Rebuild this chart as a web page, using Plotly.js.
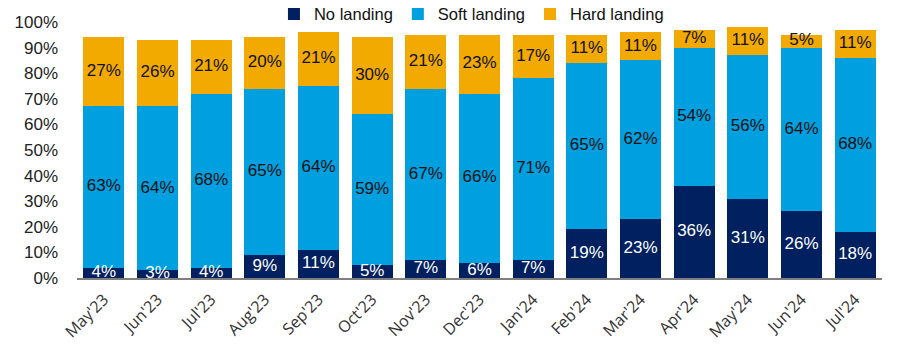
<!DOCTYPE html>
<html><head><meta charset="utf-8">
<script src="https://cdn.plot.ly/plotly-3.0.1.min.js"></script>
<style>html,body{margin:0;padding:0;background:#fff}#c{width:900px;height:358px}</style>
</head><body><div id="c"></div>
<script>
const months = ["May'23","Jun'23","Jul'23","Aug'23","Sep'23","Oct'23","Nov'23","Dec'23","Jan'24","Feb'24","Mar'24","Apr'24","May'24","Jun'24","Jul'24"];
const noLanding = [4,3,4,9,11,5,7,6,7,19,23,36,31,26,18];
const softLanding = [63,64,68,65,64,59,67,66,71,65,62,54,56,64,68];
const hardLanding = [27,26,21,20,21,30,21,23,17,11,11,7,11,5,11];

const cNo = '#002060', cSoft = '#009fdf', cHard = '#f2a900';
const font = 'Liberation Sans, Arial, sans-serif';

function bar(name, vals, color){
  return {type:'bar', name, x:months, y:vals, marker:{color, line:{width:0}}, hoverinfo:'skip'};
}
function labels(vals, base, color){
  return {type:'scatter', mode:'text', showlegend:false, x:months,
    y:vals.map((v,i)=>base[i]+v/2), text:vals.map(v=>v+'%'),
    textfont:{family:font,size:17,color}, hoverinfo:'skip', cliponaxis:false};
}
const zeros = months.map(()=>0);
const base2 = noLanding.slice();
const base3 = noLanding.map((v,i)=>v+softLanding[i]);

const data = [
  bar('No landing', noLanding, cNo),
  bar('Soft landing', softLanding, cSoft),
  bar('Hard landing', hardLanding, cHard),
  labels(noLanding, zeros, '#ffffff'),
  labels(softLanding, base2, '#111111'),
  labels(hardLanding, base3, '#111111')
];
const layout = {
  width:900, height:358, barmode:'stack', bargap:0.235,
  margin:{l:77, r:18, t:22, b:80, autoexpand:false},
  paper_bgcolor:'#fff', plot_bgcolor:'#fff',
  font:{family:font, color:'#222', size:16},
  showlegend:true,
  legend:{orientation:'h', x:0.49, xanchor:'center', y:1.03, yanchor:'middle', bgcolor:'rgba(0,0,0,0)',
    font:{family:font,size:16.5,color:'#111'}, traceorder:'normal', itemwidth:30, tracegroupgap:0},
  xaxis:{type:'category', range:[-0.5, months.length-0.5], tickangle:-45, showline:true, linecolor:'#7f7f7f', linewidth:2,
    ticks:'', tickfont:{family:'Open Sans, Liberation Sans, sans-serif', size:16, color:'#333'}, showgrid:false, zeroline:false,
    ticklabelstandoff:4},
  yaxis:{range:[0,100], dtick:10, ticksuffix:'%', showgrid:false, zeroline:false, showline:false,
    tickfont:{family:font,size:17,color:'#222'}, ticklabelstandoff:18}
};
Plotly.newPlot('c', data, layout, {displayModeBar:false, staticPlot:true});
</script></body></html>
